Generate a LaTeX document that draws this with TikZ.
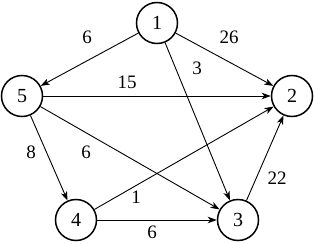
\documentclass[tikz,border=0pt]{standalone}
\usepackage{fontspec}
\setmainfont{Liberation Serif}
\usetikzlibrary{arrows.meta}
\begin{document}
\begin{tikzpicture}[x=1pt,y=-1pt,
  vert/.style={circle,draw,line width=1.5pt,minimum size=41pt,inner sep=0pt,font=\fontsize{20}{20}\selectfont},
  edge/.style={line width=0.9pt,-{Stealth[length=9pt,width=6.5pt,inset=2.5pt]}},
  lab/.style={font=\fontsize{19}{19}\selectfont,inner sep=0pt}]
\useasboundingbox (0,0) rectangle (315,243);
\node[vert] (n1) at (157,23) {1};
\node[vert] (n5) at (22,96) {5};
\node[vert] (n2) at (292,96) {2};
\node[vert] (n4) at (76,220) {4};
\node[vert] (n3) at (238,220) {3};
\draw[edge] (n1) -- (n5);
\draw[edge] (n1) -- (n2);
\draw[edge] (n1) -- (n3);
\draw[edge] (n5) -- (n2);
\draw[edge] (n5) -- (n3);
\draw[edge] (n5) -- (n4);
\draw[edge] (n4) -- (n2);
\draw[edge] (n4) -- (n3);
\draw[edge] (n3) -- (n2);
\node[lab] (l15) at (87,37) {6};
\node[lab] (l12) at (229,37) {26};
\node[lab] (l13) at (197,68) {3};
\node[lab] (l52) at (127,82) {15};
\node[lab] (l54) at (31,152) {8};
\node[lab] (l53) at (86,152) {6};
\node[lab] (l42) at (136,197) {1};
\node[lab] (l32) at (277,178) {22};
\node[lab] (l43) at (152,232) {6};
\end{tikzpicture}
\end{document}
